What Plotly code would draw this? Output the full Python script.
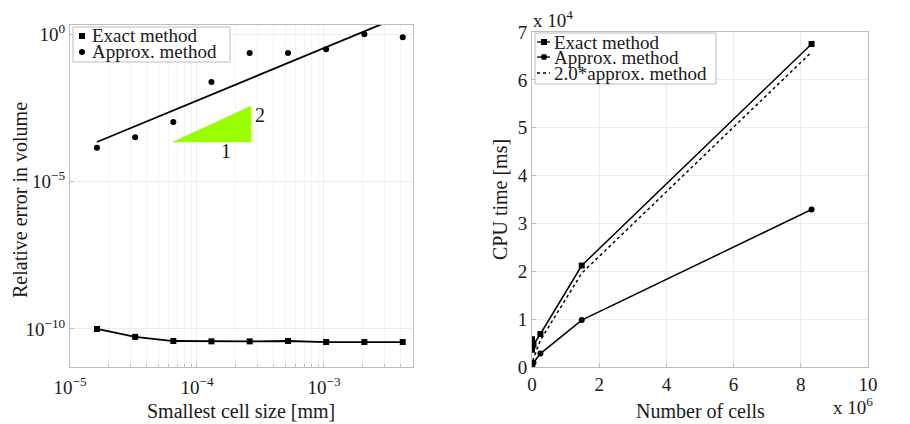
import plotly.graph_objects as go

# ---------------- data: left panel ----------------
cell_size = [1.63e-5, 3.26e-5, 6.51e-5, 1.30e-4, 2.60e-4, 5.21e-4, 1.04e-3, 2.08e-3, 4.17e-3]
err_exact = [1.0e-10, 5.4e-11, 3.9e-11, 3.8e-11, 3.8e-11, 3.9e-11, 3.6e-11, 3.6e-11, 3.6e-11]
err_approx = [1.4e-4, 3.2e-4, 1.05e-3, 2.4e-2, 0.23, 0.23, 0.31, 1.0, 0.79]
ref_x = [1.63e-5, 4.17e-3]
ref_y = [2.2e-4, 4.3]
tri_x = [6.47e-5, 2.66e-4, 2.66e-4, 6.47e-5]
tri_y = [2.19e-4, 2.19e-4, 3.63e-3, 2.19e-4]
left_xticks = [1e-5, 1e-4, 1e-3]
left_xticktext = ["10<sup>−5</sup>", "10<sup>−4</sup>", "10<sup>−3</sup>"]
left_xminor = [2e-5, 3e-5, 4e-5, 5e-5, 6e-5, 7e-5, 8e-5, 9e-5,
               2e-4, 3e-4, 4e-4, 5e-4, 6e-4, 7e-4, 8e-4, 9e-4,
               2e-3, 3e-3, 4e-3, 5e-3]
left_yticks = [1e-10, 1e-5, 1e0]
left_yticktext = ["10<sup>−10</sup>", "10<sup>−5</sup>", "10<sup>0</sup>"]

# ---------------- data: right panel ----------------
n_cells = [300, 1500, 8000, 45000, 250000, 1480000, 8320000]
cpu_exact = [5800, 3600, 4400, 4700, 6900, 21200, 67500]
cpu_approx = [20, 60, 200, 900, 2800, 9800, 32900]
cpu_2approx = [40, 120, 400, 1800, 5600, 19600, 65800]
right_xticks = [0, 2e6, 4e6, 6e6, 8e6, 10e6]
right_xticktext = ["0", "2", "4", "6", "8", "10"]
right_yticks = [0, 1e4, 2e4, 3e4, 4e4, 5e4, 6e4, 7e4]
right_yticktext = ["0", "1", "2", "3", "4", "5", "6", "7"]

legend_left = ["Exact method", "Approx. method"]
legend_right = ["Exact method", "Approx. method", "2.0*approx. method"]

FONT = "Liberation Serif"
TXT = "#1a1a1a"
GRID = "#ececec"
FRAME = "#bdbdbd"
OFF = 8                      # page body margin of the html page
W, H = 910 - OFF, 424 - OFF  # figure size so it fits in the window


def fx(px):
    return (px - OFF) / W


def fy(py):
    return 1 - (py - OFF) / H


fig = go.Figure()

# left panel
fig.add_trace(go.Scatter(x=tri_x, y=tri_y, mode="lines", fill="toself",
                         fillcolor="#99ff00", line=dict(color="#99ff00", width=0.5),
                         showlegend=False, hoverinfo="skip", xaxis="x", yaxis="y"))
fig.add_trace(go.Scatter(x=ref_x, y=ref_y, mode="lines", line=dict(color="black", width=1.8),
                         showlegend=False, xaxis="x", yaxis="y"))
fig.add_trace(go.Scatter(x=cell_size, y=err_exact, mode="lines+markers", name=legend_left[0],
                         line=dict(color="black", width=1.8),
                         marker=dict(symbol="square", size=6, color="black"),
                         showlegend=False, xaxis="x", yaxis="y"))
fig.add_trace(go.Scatter(x=cell_size, y=err_approx, mode="markers", name=legend_left[1],
                         marker=dict(symbol="circle", size=6, color="black"),
                         showlegend=False, xaxis="x", yaxis="y"))

# right panel
fig.add_trace(go.Scatter(x=n_cells, y=cpu_exact, mode="lines+markers", name=legend_right[0],
                         line=dict(color="black", width=1.5),
                         marker=dict(symbol="square", size=6, color="black"),
                         showlegend=False, xaxis="x2", yaxis="y2"))
fig.add_trace(go.Scatter(x=n_cells, y=cpu_approx, mode="lines+markers", name=legend_right[1],
                         line=dict(color="black", width=1.5),
                         marker=dict(symbol="circle", size=6, color="black"),
                         showlegend=False, xaxis="x2", yaxis="y2"))
fig.add_trace(go.Scatter(x=n_cells, y=cpu_2approx, mode="lines", name=legend_right[2],
                         line=dict(color="black", width=1.5, dash="dot"),
                         showlegend=False, xaxis="x2", yaxis="y2"))

axis_common = dict(showline=True, linecolor=FRAME, linewidth=1, mirror=True,
                   ticks="inside", ticklen=4, tickcolor=FRAME, gridcolor=GRID,
                   zeroline=False, automargin=False,
                   tickfont=dict(family=FONT, size=19, color=TXT))

shapes = []
annotations = []


def txt(text, x, y, size=20, angle=0, xanchor="center", yanchor="middle"):
    annotations.append(dict(text=text, x=fx(x), y=fy(y), xref="paper", yref="paper",
                            xanchor=xanchor, yanchor=yanchor, showarrow=False,
                            textangle=angle, font=dict(family=FONT, size=size, color=TXT)))


def box(x0, y0, x1, y1):
    shapes.append(dict(type="rect", xref="paper", yref="paper", x0=fx(x0), x1=fx(x1),
                       y0=fy(y1), y1=fy(y0), line=dict(color=FRAME, width=1),
                       fillcolor="white", layer="above"))


def sq(cx, cy, r=3):
    shapes.append(dict(type="rect", xref="paper", yref="paper", x0=fx(cx - r), x1=fx(cx + r),
                       y0=fy(cy + r), y1=fy(cy - r), line=dict(width=0),
                       fillcolor="black", layer="above"))


def dot(cx, cy, r=3):
    shapes.append(dict(type="circle", xref="paper", yref="paper", x0=fx(cx - r), x1=fx(cx + r),
                       y0=fy(cy + r), y1=fy(cy - r), line=dict(width=0),
                       fillcolor="black", layer="above"))


def seg(x0, x1, y, dash="solid"):
    shapes.append(dict(type="line", xref="paper", yref="paper", x0=fx(x0), x1=fx(x1),
                       y0=fy(y), y1=fy(y), line=dict(color="black", width=1.3, dash=dash),
                       layer="above"))


# left legend
box(73, 27, 230, 62)
sq(82, 36)
dot(82, 52)
txt(legend_left[0], 90, 36, size=19, xanchor="left")
txt(legend_left[1], 90, 52, size=19, xanchor="left")

# right legend
box(535, 33, 716, 84)
seg(537, 550, 42)
sq(544, 42)
seg(537, 550, 57)
dot(544, 57)
seg(537, 550, 73, dash="dot")
txt(legend_right[0], 552, 42, size=19, xanchor="left")
txt(legend_right[1], 552, 57, size=19, xanchor="left")
txt(legend_right[2], 552, 73, size=19, xanchor="left")

# axis titles
txt("Relative error in volume", 20, 200, size=20, angle=-90)
txt("Smallest cell size [mm]", 241, 411, size=20)
txt("CPU time [ms]", 500, 199, size=20, angle=-90)
txt("Number of cells", 700, 411, size=20)
txt("x 10<sup>4</sup>", 531, 19, size=19, xanchor="left")
txt("x 10<sup>6</sup>", 831, 406, size=19, xanchor="left")

# triangle labels (data coords, log10 units)
annotations.append(dict(text="2", x=-3.50, y=-2.75, xref="x", yref="y", showarrow=False,
                        font=dict(family=FONT, size=20, color=TXT)))
annotations.append(dict(text="1", x=-3.77, y=-3.95, xref="x", yref="y", showarrow=False,
                        font=dict(family=FONT, size=20, color=TXT)))

fig.update_layout(
    width=W, height=H, margin=dict(l=0, r=0, t=0, b=0),
    paper_bgcolor="white", plot_bgcolor="white",
    font=dict(family=FONT, size=18, color=TXT),
    showlegend=False,
    xaxis=dict(domain=[fx(70), fx(413)], type="log", range=[-5, -2.299],
               tickvals=left_xticks, ticktext=left_xticktext, anchor="y",
               ticklabelstandoff=3,
               minor=dict(tickvals=left_xminor, showgrid=True, gridcolor="#f4f4f4",
                          ticks="inside", ticklen=3, tickcolor=FRAME),
               **axis_common),
    yaxis=dict(domain=[fy(367), fy(25)], type="log", range=[-11.29, 0.31],
               tickvals=left_yticks, ticktext=left_yticktext, anchor="x",
               **axis_common),
    xaxis2=dict(domain=[fx(532), fx(868)], range=[0, 10e6], anchor="y2",
                tickvals=right_xticks, ticktext=right_xticktext, **axis_common),
    yaxis2=dict(domain=[fy(367), fy(32)], range=[0, 7e4], anchor="x2",
                tickvals=right_yticks, ticktext=right_yticktext, **axis_common),
    shapes=shapes,
    annotations=annotations,
)

fig.write_html("out.html")
